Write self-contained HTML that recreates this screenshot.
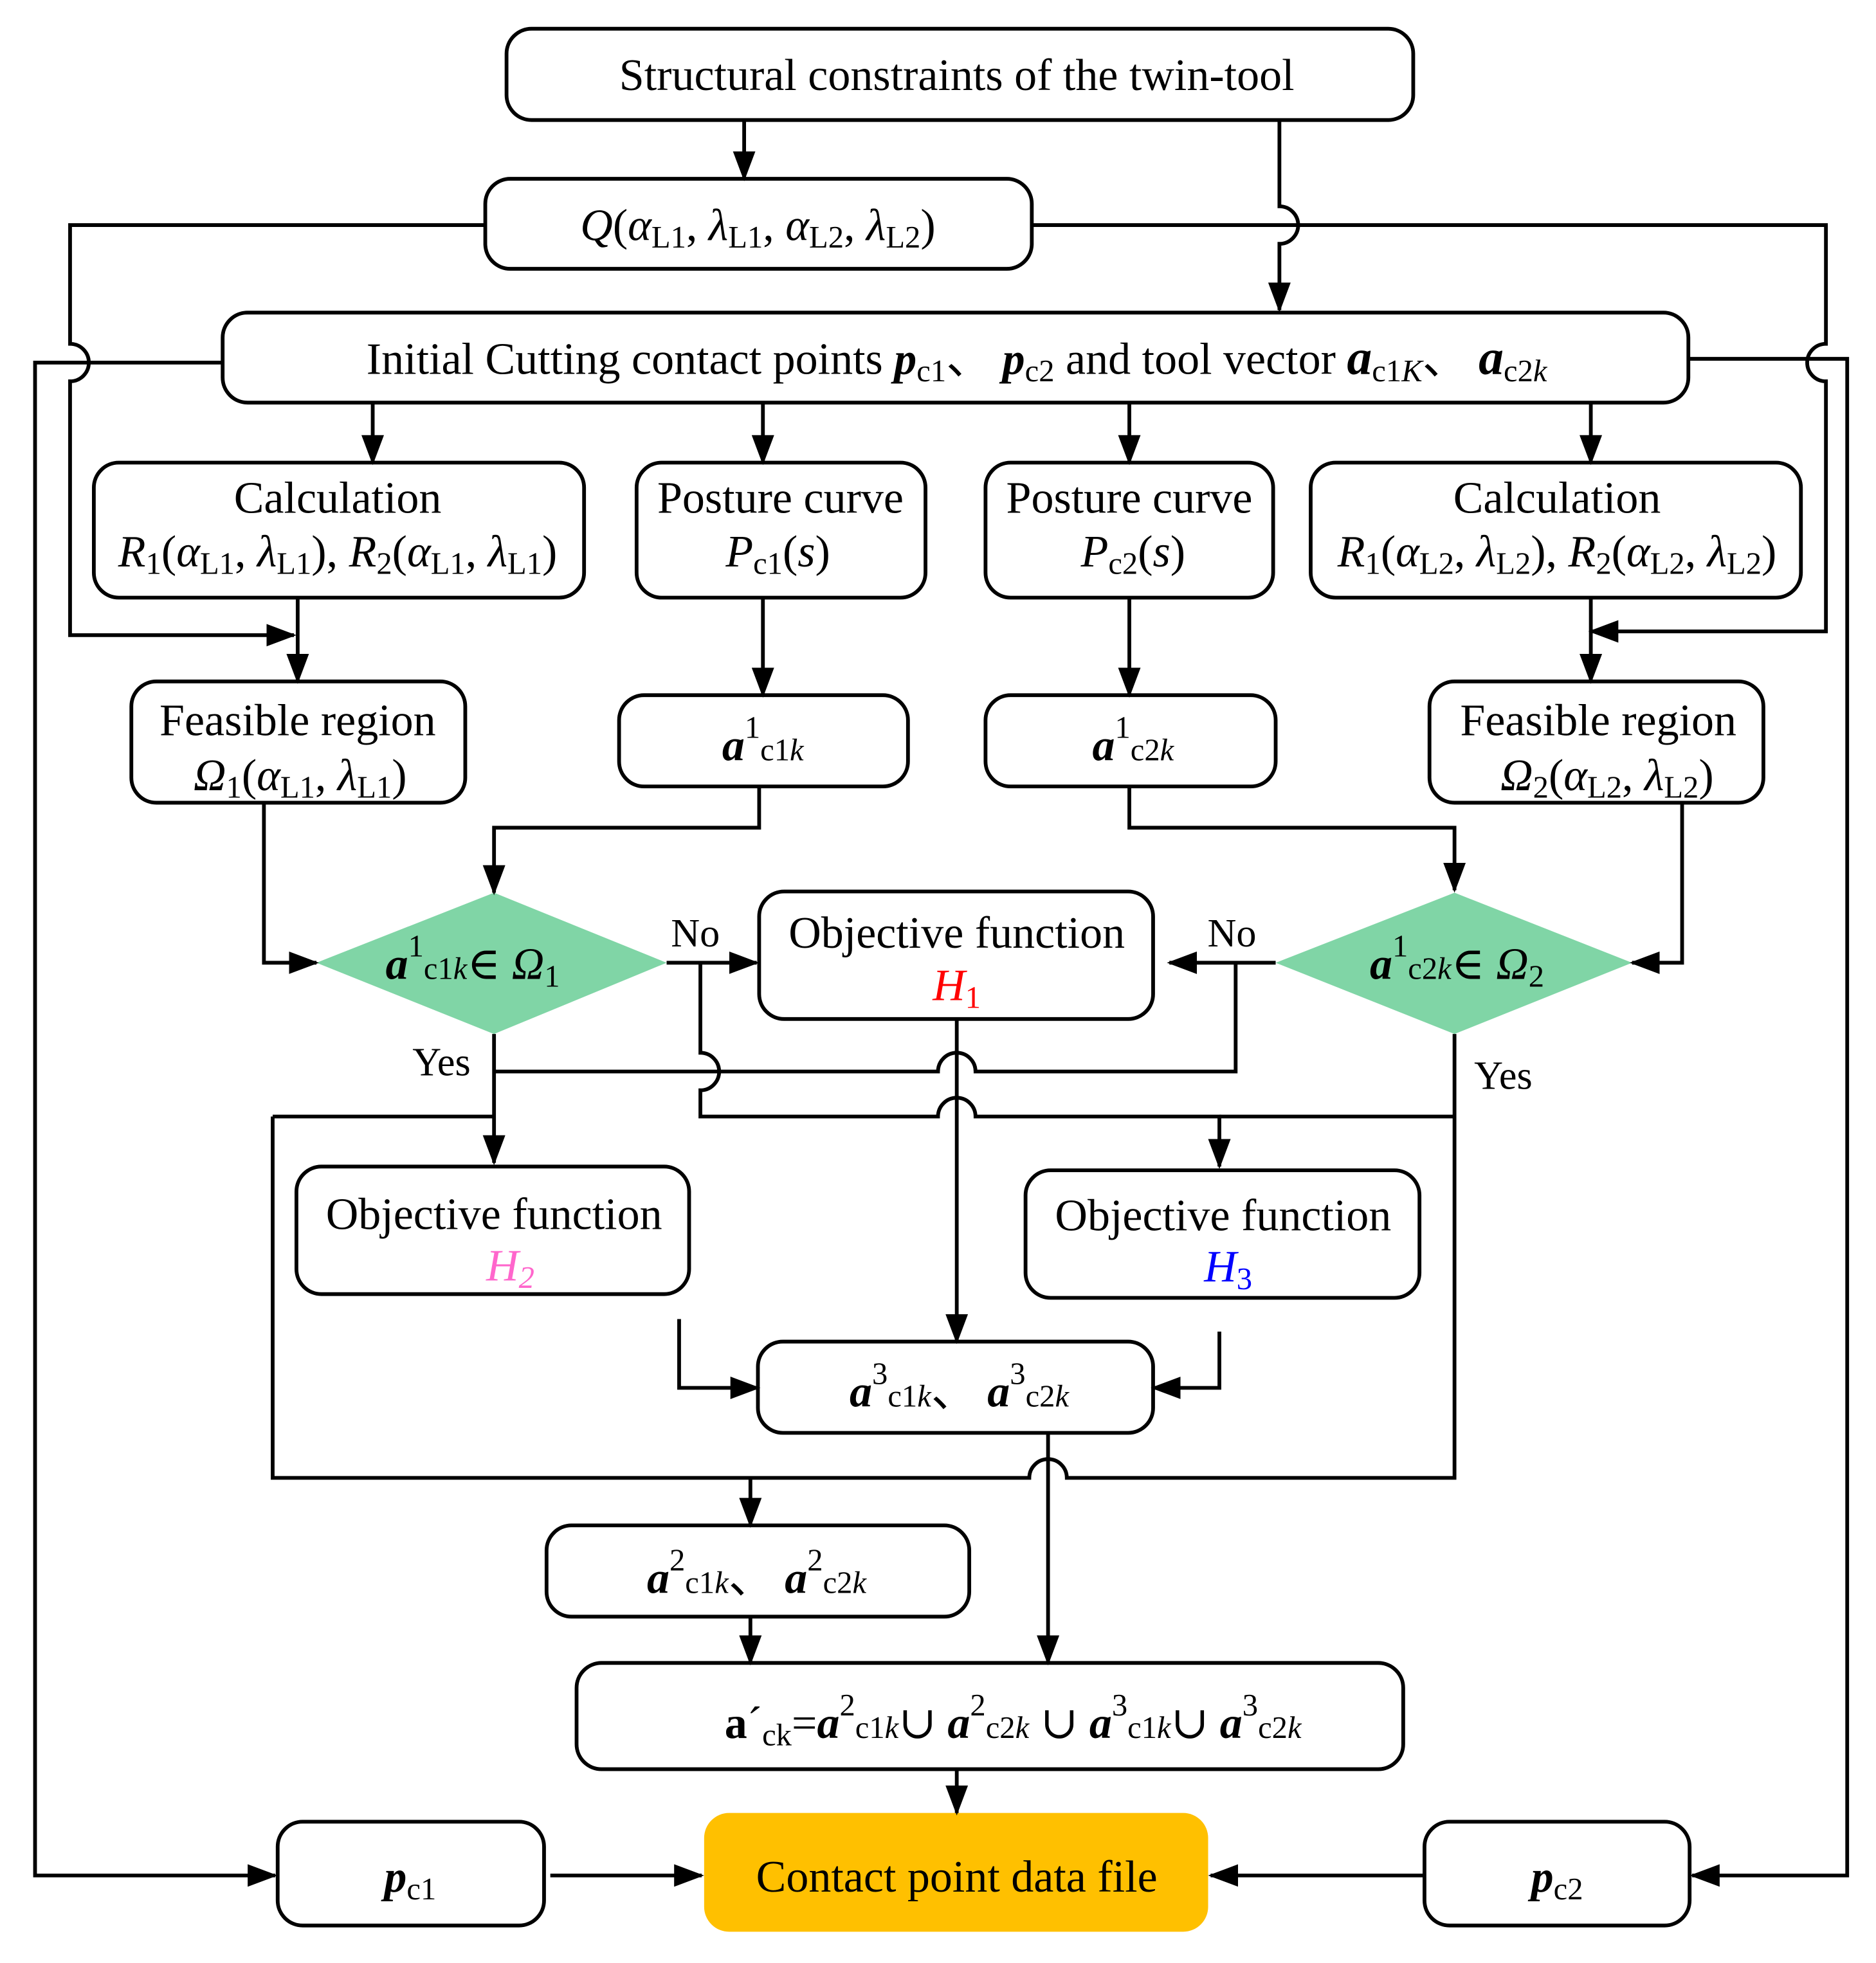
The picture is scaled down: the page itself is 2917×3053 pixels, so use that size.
<!DOCTYPE html>
<html><head><meta charset="utf-8"><style>
html,body{margin:0;padding:0;background:#fff}
svg{display:block}
text{font-family:"Liberation Serif","DejaVu Serif",serif;font-size:36px;fill:#000}
.s{font-size:25px}
.i{font-style:italic}
.b{font-weight:bold;font-style:italic}
</style></head><body>
<svg width="2917" height="3053" viewBox="0 0 1500 1570" xmlns="http://www.w3.org/2000/svg">
<defs>
<marker id="a" markerUnits="userSpaceOnUse" markerWidth="24" markerHeight="18" refX="22" refY="9" orient="auto">
<path d="M0,0 L24,9 L0,18 Z" fill="#000"/></marker>
</defs>
<g fill="none" stroke="#000" stroke-width="3">
<rect x="405" y="23" width="725" height="73" rx="20"/>
<rect x="388" y="143" width="437" height="72" rx="20"/>
<rect x="178" y="250" width="1172" height="72" rx="20"/>
<rect x="75" y="370" width="392" height="108" rx="20"/>
<rect x="509" y="370" width="231" height="108" rx="20"/>
<rect x="788" y="370" width="230" height="108" rx="20"/>
<rect x="1048" y="370" width="392" height="108" rx="20"/>
<rect x="105" y="545" width="267" height="97" rx="20"/>
<rect x="495" y="556" width="231" height="73" rx="20"/>
<rect x="788" y="556" width="232" height="73" rx="20"/>
<rect x="1143" y="545" width="267" height="97" rx="20"/>
<rect x="607" y="713" width="315" height="102" rx="20"/>
<rect x="237" y="933" width="314" height="102" rx="20"/>
<rect x="820" y="936" width="315" height="102" rx="20"/>
<rect x="606" y="1073" width="316" height="73" rx="20"/>
<rect x="437" y="1220" width="338" height="73" rx="20"/>
<rect x="461" y="1330" width="661" height="85" rx="20"/>
<rect x="222" y="1457" width="213" height="83" rx="20"/>
<rect x="1139" y="1457" width="212" height="83" rx="20"/>
</g>
<rect x="563" y="1450" width="403" height="95" rx="20" fill="#FFC000"/>
<polygon points="253,770 395,714 533,770 395,827" fill="#80D5A6"/>
<polygon points="1020,770 1163,714 1305,770 1163,827" fill="#80D5A6"/>
<g fill="none" stroke="#000" stroke-width="3">
<path d="M595,96 V143" marker-end="url(#a)"/>
<path d="M1023,96 V165 A15,15 0 0 1 1023,195 V248" marker-end="url(#a)"/>
<path d="M388,180 H56 V275 A15,15 0 0 1 56,305 V508 H235" marker-end="url(#a)"/>
<path d="M825,180 H1460 V275 A15,15 0 0 0 1460,305 V505 H1272" marker-end="url(#a)"/>
<path d="M178,290 H28 V1500 H220" marker-end="url(#a)"/>
<path d="M1350,287 H1477 V1500 H1353" marker-end="url(#a)"/>
<path d="M298,322 V370" marker-end="url(#a)"/>
<path d="M610,322 V370" marker-end="url(#a)"/>
<path d="M903,322 V370" marker-end="url(#a)"/>
<path d="M1272,322 V370" marker-end="url(#a)"/>
<path d="M238,478 V545" marker-end="url(#a)"/>
<path d="M1272,478 V545" marker-end="url(#a)"/>
<path d="M610,478 V556" marker-end="url(#a)"/>
<path d="M903,478 V556" marker-end="url(#a)"/>
<path d="M607,629 V662 H395 V714" marker-end="url(#a)"/>
<path d="M903,629 V662 H1163 V712" marker-end="url(#a)"/>
<path d="M211,642 V770 H253" marker-end="url(#a)"/>
<path d="M1345,642 V770 H1305" marker-end="url(#a)"/>
<path d="M533,770 H605" marker-end="url(#a)"/>
<path d="M1020,770 H935" marker-end="url(#a)"/>
<path d="M560,770 V842 A15,15 0 0 1 560,872 V893 H750 A15,15 0 0 1 780,893 H975 V933" marker-end="url(#a)"/>
<path d="M975,893 H1163"/>
<path d="M988,770 V857 H780 A15,15 0 0 0 750,857 H575"/>
<path d="M575,857 H395"/>
<path d="M395,827 V930" marker-end="url(#a)"/>
<path d="M218,893 H395"/>
<path d="M1163,827 V1182 H853 A15,15 0 0 0 823,1182 H218 V893"/>
<path d="M600,1182 V1220" marker-end="url(#a)"/>
<path d="M765,815 V1073" marker-end="url(#a)"/>
<path d="M543,1055 V1110 H606" marker-end="url(#a)"/>
<path d="M975,1065 V1110 H922" marker-end="url(#a)"/>
<path d="M838,1146 V1330" marker-end="url(#a)"/>
<path d="M600,1293 V1330" marker-end="url(#a)"/>
<path d="M765,1415 V1450" marker-end="url(#a)"/>
<path d="M440,1500 H561" marker-end="url(#a)"/>
<path d="M1139,1500 H968" marker-end="url(#a)"/>
</g>
<g text-anchor="middle">
<text x="765" y="72">Structural constraints of the twin-tool</text>
<text x="606" y="192"><tspan class="i">Q</tspan>(<tspan class="i">α</tspan><tspan class="s" dy="6">L1</tspan><tspan dy="-6">, </tspan><tspan class="i">λ</tspan><tspan class="s" dy="6">L1</tspan><tspan dy="-6">, </tspan><tspan class="i">α</tspan><tspan class="s" dy="6">L2</tspan><tspan dy="-6">, </tspan><tspan class="i">λ</tspan><tspan class="s" dy="6">L2</tspan><tspan dy="-6">)</tspan></text>
<text x="765" y="299">Initial Cutting contact points <tspan class="b">p</tspan><tspan class="s" dy="6">c1</tspan><tspan dy="-6">、 </tspan><tspan class="b">p</tspan><tspan class="s" dy="6">c2</tspan><tspan dy="-6"> and tool vector  </tspan><tspan class="b" style="font-size:40px">a</tspan><tspan class="s" dy="6">c1</tspan><tspan class="s i">K</tspan><tspan dy="-6">、  </tspan><tspan class="b" style="font-size:40px">a</tspan><tspan class="s" dy="6">c2</tspan><tspan class="s i">k</tspan></text>
<text x="270" y="410">Calculation</text>
<text x="270" y="453"><tspan class="i">R</tspan><tspan class="s" dy="6">1</tspan><tspan dy="-6">(</tspan><tspan class="i">α</tspan><tspan class="s" dy="6">L1</tspan><tspan dy="-6">, </tspan><tspan class="i">λ</tspan><tspan class="s" dy="6">L1</tspan><tspan dy="-6">), </tspan><tspan class="i">R</tspan><tspan class="s" dy="6">2</tspan><tspan dy="-6">(</tspan><tspan class="i">α</tspan><tspan class="s" dy="6">L1</tspan><tspan dy="-6">, </tspan><tspan class="i">λ</tspan><tspan class="s" dy="6">L1</tspan><tspan dy="-6">)</tspan></text>
<text x="1245" y="410">Calculation</text>
<text x="1245" y="453"><tspan class="i">R</tspan><tspan class="s" dy="6">1</tspan><tspan dy="-6">(</tspan><tspan class="i">α</tspan><tspan class="s" dy="6">L2</tspan><tspan dy="-6">, </tspan><tspan class="i">λ</tspan><tspan class="s" dy="6">L2</tspan><tspan dy="-6">), </tspan><tspan class="i">R</tspan><tspan class="s" dy="6">2</tspan><tspan dy="-6">(</tspan><tspan class="i">α</tspan><tspan class="s" dy="6">L2</tspan><tspan dy="-6">, </tspan><tspan class="i">λ</tspan><tspan class="s" dy="6">L2</tspan><tspan dy="-6">)</tspan></text>
<text x="624" y="410">Posture curve</text>
<text x="622" y="453"><tspan class="i">P</tspan><tspan class="s" dy="6">c1</tspan><tspan dy="-6">(</tspan><tspan class="i">s</tspan>)</text>
<text x="903" y="410">Posture curve</text>
<text x="906" y="453"><tspan class="i">P</tspan><tspan class="s" dy="6">c2</tspan><tspan dy="-6">(</tspan><tspan class="i">s</tspan>)</text>
<text x="238" y="588">Feasible region</text>
<text x="240" y="632"><tspan class="i">Ω</tspan><tspan class="s" dy="6">1</tspan><tspan dy="-6">(</tspan><tspan class="i">α</tspan><tspan class="s" dy="6">L1</tspan><tspan dy="-6">, </tspan><tspan class="i">λ</tspan><tspan class="s" dy="6">L1</tspan><tspan dy="-6">)</tspan></text>
<text x="1278" y="588">Feasible region</text>
<text x="1285" y="632"><tspan class="i">Ω</tspan><tspan class="s" dy="6">2</tspan><tspan dy="-6">(</tspan><tspan class="i">α</tspan><tspan class="s" dy="6">L2</tspan><tspan dy="-6">, </tspan><tspan class="i">λ</tspan><tspan class="s" dy="6">L2</tspan><tspan dy="-6">)</tspan></text>
<text x="610" y="608"><tspan class="b">a</tspan><tspan class="s" dy="-18">1</tspan><tspan class="s" dy="18">c1</tspan><tspan class="s i">k</tspan></text>
<text x="906" y="608"><tspan class="b">a</tspan><tspan class="s" dy="-18">1</tspan><tspan class="s" dy="18">c2</tspan><tspan class="s i">k</tspan></text>
<text x="378" y="783"><tspan class="b">a</tspan><tspan class="s" dy="-18">1</tspan><tspan class="s" dy="18">c1</tspan><tspan class="s i">k</tspan><tspan>∈ </tspan><tspan class="i">Ω</tspan><tspan class="s" dy="6">1</tspan></text>
<text x="1165" y="783"><tspan class="b">a</tspan><tspan class="s" dy="-18">1</tspan><tspan class="s" dy="18">c2</tspan><tspan class="s i">k</tspan><tspan>∈ </tspan><tspan class="i">Ω</tspan><tspan class="s" dy="6">2</tspan></text>
<text x="765" y="758">Objective function</text>
<text x="765" y="800" class="i" style="fill:#ff0000">H<tspan class="s" dy="6" style="font-style:normal;fill:#ff0000">1</tspan></text>
<text x="395" y="983">Objective function</text>
<text x="408" y="1024" class="i" style="fill:#ff66cc">H<tspan class="s" dy="6" style="fill:#ff66cc">2</tspan></text>
<text x="978" y="984">Objective function</text>
<text x="982" y="1025" class="i" style="fill:#0000ff">H<tspan class="s" dy="6" style="font-style:normal;fill:#0000ff">3</tspan></text>
<text x="767" y="1125"><tspan class="b">a</tspan><tspan class="s" dy="-18">3</tspan><tspan class="s" dy="18">c1</tspan><tspan class="s i">k</tspan><tspan>、 </tspan><tspan class="b">a</tspan><tspan class="s" dy="-18">3</tspan><tspan class="s" dy="18">c2</tspan><tspan class="s i">k</tspan></text>
<text x="605" y="1274"><tspan class="b">a</tspan><tspan class="s" dy="-18">2</tspan><tspan class="s" dy="18">c1</tspan><tspan class="s i">k</tspan><tspan>、 </tspan><tspan class="b">a</tspan><tspan class="s" dy="-18">2</tspan><tspan class="s" dy="18">c2</tspan><tspan class="s i">k</tspan></text>
<text x="810" y="1390"><tspan style="font-weight:bold">a</tspan><tspan>´</tspan><tspan class="s" dy="6">ck</tspan><tspan dy="-6">=</tspan><tspan class="b">a</tspan><tspan class="s" dy="-18">2</tspan><tspan class="s" dy="18">c1</tspan><tspan class="s i">k</tspan><tspan>∪ </tspan><tspan class="b">a</tspan><tspan class="s" dy="-18">2</tspan><tspan class="s" dy="18">c2</tspan><tspan class="s i">k</tspan><tspan> ∪ </tspan><tspan class="b">a</tspan><tspan class="s" dy="-18">3</tspan><tspan class="s" dy="18">c1</tspan><tspan class="s i">k</tspan><tspan>∪ </tspan><tspan class="b">a</tspan><tspan class="s" dy="-18">3</tspan><tspan class="s" dy="18">c2</tspan><tspan class="s i">k</tspan></text>
<text x="765" y="1513">Contact point data file</text>
<text x="328" y="1513"><tspan class="b">p</tspan><tspan class="s" dy="6">c1</tspan></text>
<text x="1245" y="1513"><tspan class="b">p</tspan><tspan class="s" dy="6">c2</tspan></text>
<text x="556" y="757" style="font-size:32px">No</text>
<text x="985" y="757" style="font-size:32px">No</text>
<text x="353" y="860" style="font-size:32px">Yes</text>
<text x="1202" y="871" style="font-size:32px">Yes</text>
</g>
</svg>
</body></html>
